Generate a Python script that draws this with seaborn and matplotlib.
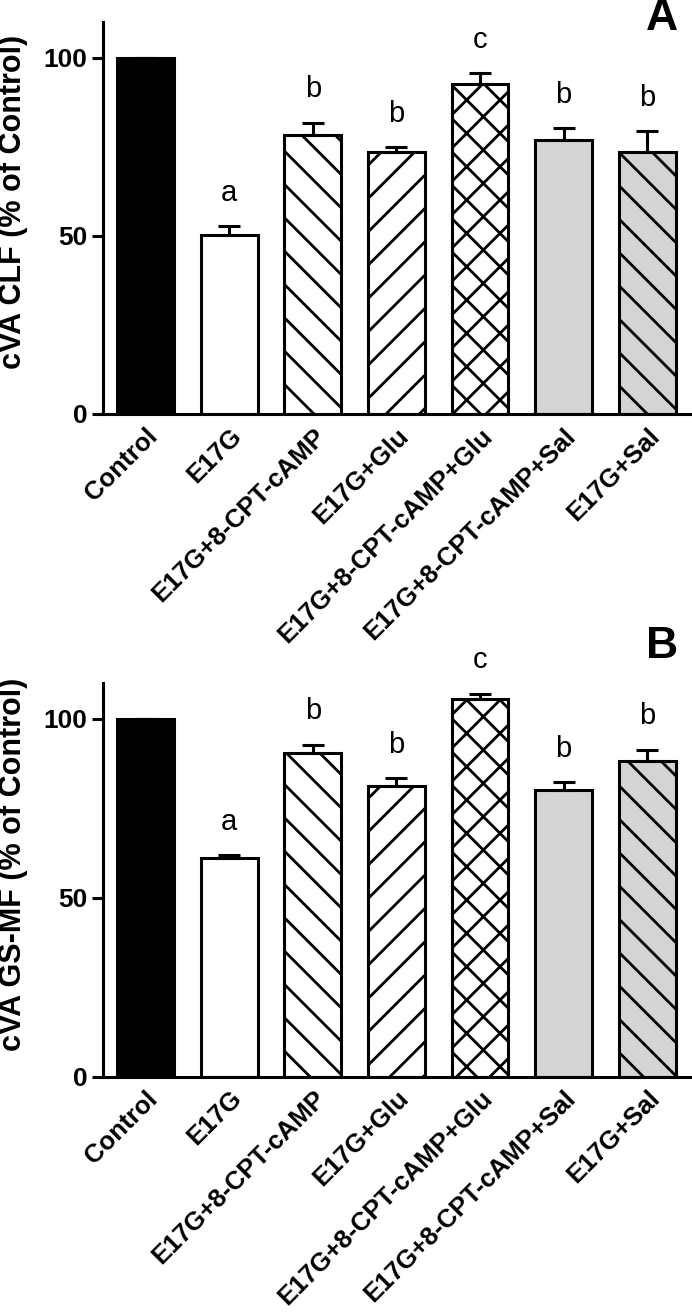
import numpy as np
import pandas as pd
import matplotlib
matplotlib.use("Agg")
import matplotlib.pyplot as plt
import seaborn as sns

# Données
groups = ['Control', 'E17G', 'E17G+8-CPT-cAMP', 'E17G+Glu',
          'E17G+8-CPT-cAMP+Glu', 'E17G+8-CPT-cAMP+Sal', 'E17G+Sal']

clf_mean = [100, 50.1, 78.3, 73.5, 92.6, 77.0, 73.5]
clf_sem = [0, 2.6, 3.5, 1.5, 3.0, 3.3, 6.0]
clf_letters = ['', 'a', 'b', 'b', 'c', 'b', 'b']

gsmf_mean = [100, 61.0, 90.4, 81.2, 105.6, 80.1, 88.3]
gsmf_sem = [0, 1.0, 2.4, 2.3, 1.4, 2.2, 3.1]
gsmf_letters = ['', 'a', 'b', 'b', 'c', 'b', 'b']

fill_colors = ['black', 'white', 'white', 'white', 'white', '#d4d4d4', '#d4d4d4']
hatches = ['', '', '\\', '/', 'x', '', '\\']

sns.set_style('ticks')
plt.rcParams['font.family'] = ['Liberation Sans', 'DejaVu Sans']
plt.rcParams['hatch.linewidth'] = 2.0
for key in ['text.color', 'axes.labelcolor', 'xtick.color', 'ytick.color', 'axes.edgecolor']:
    plt.rcParams[key] = 'black'

fig = plt.figure(figsize=(6.92, 13.13), dpi=100)
ax_a = fig.add_axes([0.1488, 0.6847, 0.848, 0.2985])
ax_b = fig.add_axes([0.1488, 0.1800, 0.848, 0.2998])


def draw_panel(ax, means, sems, letters, ylabel):
    df = pd.DataFrame({'group': groups, 'value': means})
    sns.barplot(data=df, x='group', y='value', hue='group', order=groups,
                palette=fill_colors, errorbar=None, width=0.68,
                edgecolor='black', linewidth=2.2, legend=False, ax=ax)
    for patch, h in zip(ax.patches, hatches):
        patch.set_hatch(h)
    xs = np.arange(len(groups))
    # barres d'erreur : seulement vers le haut
    ax.errorbar(xs, means, yerr=[np.zeros(len(sems)), sems], fmt='none',
                ecolor='black', elinewidth=2.2, capsize=8, capthick=2.2, zorder=1)
    for x, m, s, t in zip(xs, means, sems, letters):
        if t:
            ax.text(x, m + s + 9.3, t, ha='center', va='center', fontsize=21)
    ax.set_ylim(0, 110)
    ax.set_xlim(-0.51, 6.51)
    ax.set_yticks([0, 50, 100])
    ax.set_yticklabels(['0', '50', '100'], fontsize=19, fontweight='bold')
    ax.set_xticks(xs)
    ax.set_xticklabels(groups, rotation=45, ha='right', rotation_mode='anchor',
                       fontsize=18.5, fontweight='bold')
    ax.tick_params(axis='y', length=8, width=2.2, pad=3)
    ax.tick_params(axis='x', length=0, pad=7)
    ax.set_xlabel('')
    ax.set_ylabel(ylabel, fontsize=22, fontweight='bold')
    ax.yaxis.set_label_coords(-0.128, 0.54)
    sns.despine(ax=ax)
    for sp in ['left', 'bottom']:
        ax.spines[sp].set_linewidth(2.2)


draw_panel(ax_a, clf_mean, clf_sem, clf_letters, 'cVA CLF (% of Control)')
draw_panel(ax_b, gsmf_mean, gsmf_sem, gsmf_letters, 'cVA GS-MF (% of Control)')

fig.text(662 / 692, 1 - 19 / 1313, 'A', ha='center', va='center', fontsize=32, fontweight='bold')
fig.text(662 / 692, 1 - 646 / 1313, 'B', ha='center', va='center', fontsize=32, fontweight='bold')

fig.savefig('out.png', dpi=100)
